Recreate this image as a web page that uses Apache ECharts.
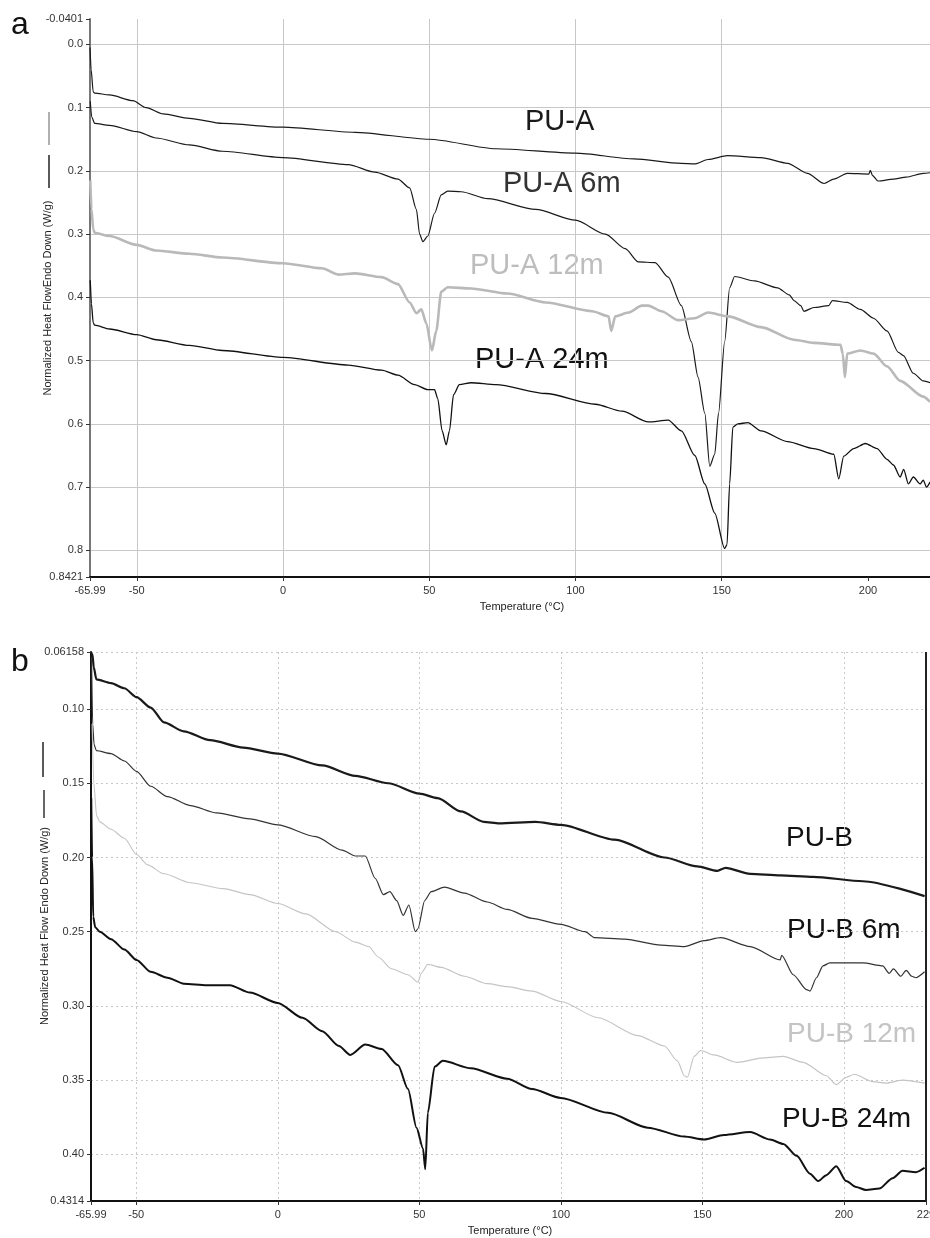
<!DOCTYPE html>
<html>
<head>
<meta charset="utf-8">
<script src="https://cdn.jsdelivr.net/npm/echarts@6/dist/echarts.min.js"></script>
<style>
html,body{margin:0;padding:0;background:#fff;}
#chart{width:930px;height:1238px;}
</style>
</head>
<body>
<div id="chart"></div>
<script>
// ---------- DATA (Temperature °C, Normalized heat flow W/g) ----------
const xTicksA = [-65.99, -50, 0, 50, 100, 150, 200];
const xTicksB = [-65.99, -50, 0, 50, 100, 150, 200, 229];
const yTicksA = [-0.0401, 0.0, 0.1, 0.2, 0.3, 0.4, 0.5, 0.6, 0.7, 0.8, 0.8421];
const yTickLabelsA = ['-0.0401','0.0','0.1','0.2','0.3','0.4','0.5','0.6','0.7','0.8','0.8421'];
const yTicksB = [0.06158, 0.10, 0.15, 0.20, 0.25, 0.30, 0.35, 0.40, 0.4314];
const yTickLabelsB = ['0.06158','0.10','0.15','0.20','0.25','0.30','0.35','0.40','0.4314'];

const puA = [[-65.99,0.005],[-65.6,0.04],[-64.9,0.075],[-64.4,0.077],[-59.3,0.080],[-51.3,0.089],[-46.8,0.1],[-41,0.11],[-32,0.117],[-20.7,0.125],[0,0.131],[24.6,0.139],[50,0.150],[72.8,0.165],[100,0.172],[120,0.181],[136,0.188],[140.8,0.189],[145.3,0.182],[152,0.176],[163.4,0.179],[172.5,0.188],[179.3,0.204],[185,0.220],[188.3,0.213],[192.9,0.204],[200.3,0.205],[200.8,0.199],[201.5,0.207],[203.4,0.216],[208.7,0.213],[213,0.210],[219,0.204],[221.2,0.203]];
const puA6 = [[-65.9,0.09],[-65.4,0.115],[-64.4,0.125],[-59.3,0.128],[-50,0.138],[-43.4,0.148],[-32,0.159],[-20.7,0.169],[0,0.179],[22.3,0.190],[31.4,0.202],[39.3,0.213],[43.3,0.227],[45.6,0.261],[46.7,0.300],[47.8,0.312],[49.5,0.303],[51.8,0.267],[54.1,0.238],[56.3,0.232],[60.9,0.233],[70,0.244],[86.4,0.261],[100,0.278],[110.2,0.300],[117,0.323],[121.5,0.344],[127.2,0.345],[131.7,0.368],[136.2,0.413],[139.6,0.470],[141.9,0.526],[144.2,0.583],[145.9,0.667],[147.6,0.648],[148.9,0.583],[151,0.470],[152.7,0.385],[154.4,0.367],[161.2,0.374],[169.1,0.385],[173.1,0.396],[174.7,0.405],[177,0.413],[178.1,0.422],[181.5,0.416],[186.6,0.413],[187.8,0.405],[192.9,0.408],[197.4,0.419],[201.9,0.433],[206.5,0.453],[210.4,0.487],[212.1,0.492],[215.5,0.520],[218.9,0.532],[221.2,0.535]];
const puA12 = [[-65.9,0.215],[-65.5,0.26],[-64.9,0.292],[-64.4,0.298],[-59.3,0.303],[-50,0.317],[-43.4,0.326],[-32,0.331],[-20.7,0.337],[0,0.346],[13.3,0.354],[18.9,0.364],[24.6,0.362],[33.7,0.368],[39.3,0.379],[43.3,0.408],[45.6,0.425],[47.3,0.419],[49,0.441],[50.9,0.484],[52.4,0.453],[54.1,0.391],[56.3,0.384],[64.3,0.386],[76.7,0.394],[89.8,0.408],[105.7,0.422],[111.3,0.430],[112.2,0.453],[113.6,0.430],[118.1,0.424],[122.7,0.413],[124.9,0.413],[129.4,0.422],[135.1,0.436],[140.8,0.433],[145.3,0.424],[152.1,0.430],[163.4,0.447],[174.7,0.467],[181.5,0.472],[190.6,0.475],[191.4,0.49],[192.1,0.526],[192.9,0.489],[197.4,0.484],[201.9,0.489],[206.5,0.509],[211,0.532],[218.9,0.557],[221.2,0.565]];
const puA24 = [[-65.9,0.373],[-65.5,0.41],[-64.9,0.44],[-64.4,0.444],[-59.3,0.450],[-50,0.459],[-43.4,0.467],[-32,0.476],[-20.7,0.484],[0,0.495],[22.3,0.507],[33.7,0.515],[39.3,0.523],[45,0.538],[49.5,0.546],[51.8,0.546],[52.9,0.560],[54.4,0.611],[55.8,0.633],[56.9,0.611],[58.3,0.554],[60.3,0.538],[64.3,0.535],[72.8,0.538],[89.8,0.552],[106.8,0.569],[115.9,0.580],[124.9,0.597],[131.7,0.594],[136.2,0.611],[140.8,0.650],[144.2,0.695],[147.6,0.741],[151,0.797],[151.8,0.791],[152.7,0.695],[153.8,0.605],[155.5,0.600],[158.9,0.598],[163.4,0.611],[172.5,0.628],[181.5,0.639],[188.3,0.648],[190,0.687],[191.7,0.651],[195.1,0.639],[199.1,0.631],[203.1,0.639],[206.5,0.656],[208.7,0.665],[211,0.684],[212.2,0.672],[213.8,0.695],[215.5,0.684],[217.8,0.695],[218.9,0.689],[220,0.70],[221.2,0.692]];

const puB = [[-65.99,0.062],[-65.5,0.063],[-65,0.072],[-64.1,0.080],[-58.9,0.0825],[-54.2,0.086],[-49.9,0.092],[-44.9,0.099],[-40.2,0.109],[-33.2,0.115],[-23.9,0.121],[-12.2,0.126],[0,0.130],[15.7,0.138],[27.4,0.145],[39,0.150],[50.1,0.157],[56.5,0.160],[64.7,0.169],[72.8,0.176],[78.2,0.177],[91,0.176],[100,0.178],[119,0.188],[136.6,0.200],[148.2,0.206],[155.3,0.209],[158.2,0.207],[166.9,0.211],[177.5,0.212],[189.1,0.213],[206.7,0.216],[228.5,0.226]];
const puB6 = [[-65.8,0.065],[-65.4,0.11],[-64.9,0.124],[-64.1,0.128],[-58.9,0.130],[-54.2,0.135],[-49.9,0.142],[-44.9,0.152],[-39,0.159],[-30.9,0.165],[-21.6,0.170],[-9.9,0.174],[0,0.178],[13.4,0.186],[22.7,0.195],[27.4,0.199],[30.9,0.199],[34.4,0.214],[37.3,0.225],[39.6,0.223],[42,0.229],[44.3,0.239],[46.3,0.232],[48.6,0.250],[49.5,0.248],[51.9,0.229],[54.2,0.223],[58.9,0.220],[65.9,0.224],[74,0.230],[81,0.235],[89.8,0.241],[100,0.245],[108.5,0.250],[112,0.254],[122.5,0.255],[135.4,0.259],[143.6,0.260],[150.6,0.256],[156.4,0.254],[166.9,0.260],[177.5,0.269],[178,0.266],[182.1,0.279],[186.8,0.289],[188,0.290],[190.3,0.281],[192.6,0.273],[195,0.271],[206.7,0.271],[213.7,0.273],[216,0.278],[217.5,0.275],[220.1,0.280],[222,0.276],[224,0.280],[225.4,0.281],[228.5,0.277]];
const puB12 = [[-65.6,0.11],[-65,0.15],[-64,0.172],[-62.9,0.176],[-58.9,0.181],[-54.2,0.187],[-49.9,0.198],[-46,0.205],[-40.2,0.211],[-30.9,0.217],[-19.2,0.221],[-9.9,0.225],[0,0.231],[9.9,0.238],[20.4,0.250],[27.4,0.257],[32.1,0.260],[35.5,0.267],[40.2,0.275],[46,0.279],[49.5,0.284],[50.7,0.278],[53,0.272],[57.7,0.274],[65.9,0.280],[74,0.285],[81,0.287],[89.8,0.290],[100,0.297],[113.2,0.308],[127.2,0.320],[136.6,0.327],[141.2,0.337],[143.6,0.347],[144.7,0.348],[147.1,0.334],[149.4,0.330],[154.1,0.333],[162.3,0.338],[171.6,0.335],[178.6,0.334],[185.6,0.338],[193.8,0.347],[197.3,0.353],[200.8,0.348],[203.7,0.346],[210.2,0.351],[214.8,0.352],[220.7,0.350],[228.5,0.352]];
const puB24 = [[-65.9,0.16],[-65.6,0.20],[-65.2,0.24],[-64.5,0.247],[-62.9,0.250],[-58.9,0.255],[-54.2,0.262],[-49.9,0.269],[-44.9,0.277],[-39,0.281],[-33.2,0.285],[-25.1,0.286],[-16.9,0.286],[-9.9,0.291],[0,0.298],[8.7,0.308],[15.7,0.317],[21.6,0.327],[25.6,0.333],[30.9,0.326],[36.7,0.329],[42.5,0.340],[46,0.356],[49,0.382],[51.3,0.396],[52.1,0.410],[53,0.372],[55.4,0.341],[58.3,0.337],[68.2,0.342],[81,0.349],[89.8,0.356],[100,0.362],[116.7,0.372],[130.7,0.382],[143.6,0.388],[150.6,0.390],[157.6,0.387],[166.9,0.385],[173.9,0.390],[178.6,0.393],[183.3,0.401],[188,0.413],[190.9,0.418],[193.8,0.414],[197.3,0.408],[200.8,0.418],[204.3,0.422],[207.8,0.424],[212.5,0.423],[217.2,0.416],[220.7,0.411],[225.4,0.412],[228.5,0.409]];
const endLineB = 228.8;

// ---------- CHART ----------
const chart = echarts.init(document.getElementById('chart'), null, {renderer:'canvas'});
const FONT = 'Liberation Sans, Arial, sans-serif';

function xAxisCfg(idx, min, max, ticks, lineColor, gridType){
  return {
    type:'value', gridIndex: idx, min:min, max:max,
    axisLine:{show:true, onZero:false, lineStyle:{color:lineColor, width:2}},
    axisTick:{show:true, length:4, customValues:ticks, lineStyle:{color:'#333'}},
    axisLabel:{customValues:ticks, margin:8, fontSize:11, color:'#333', fontFamily:FONT,
      formatter:(v)=>String(v)},
    splitLine:{show:true, showMinLine:false, showMaxLine:false, lineStyle:{color:'#c8c8c8', width:1, type:gridType}}
  };
}
function yAxisCfg(idx, min, max, ticks, labels, lineColor, gridType, showMin){
  return {
    type:'value', gridIndex: idx, min:min, max:max, inverse:true,
    axisLine:{show:true, onZero:false, lineStyle:{color:lineColor, width:2}},
    axisTick:{show:true, length:4, customValues:ticks, lineStyle:{color:'#333'}},
    axisLabel:{customValues:ticks, margin:7, fontSize:11, color:'#333', fontFamily:FONT,
      formatter:(v)=>{ let i = ticks.findIndex(t=>Math.abs(t-v)<1e-6); return i>=0?labels[i]:''; }},
    splitLine:{show:true, showMinLine:showMin, showMaxLine:false, lineStyle:{color:'#c8c8c8', width:1, type:gridType}}
  };
}
function line(name, data, xi, color, width, extra){
  return Object.assign({
    name:name, type:'line', xAxisIndex:xi, yAxisIndex:xi, data:data,
    showSymbol:false, symbol:'none', smooth:0.25, smoothMonotone:'x',
    lineStyle:{color:color, width:width}, animation:false, z:3
  }, extra||{});
}

const option = {
  backgroundColor:'#fff',
  animation:false,
  grid:[
    {left:90, top:19, width:840, height:558, outerBoundsMode:'none', containLabel:false},
    {left:91, top:652, width:835, height:549, outerBoundsMode:'none', containLabel:false}
  ],
  xAxis:[
    xAxisCfg(0, -65.99, 221.2, xTicksA, '#111', 'solid'),
    xAxisCfg(1, -65.99, 229, xTicksB, '#111', [2,3])
  ],
  yAxis:[
    yAxisCfg(0, -0.0401, 0.8421, yTicksA, yTickLabelsA, '#777', 'solid', false),
    yAxisCfg(1, 0.06158, 0.4314, yTicksB, yTickLabelsB, '#111', [2,3], true)
  ],
  series:[
    line('PU-A', puA, 0, '#1a1a1a', 1.2),
    line('PU-A 6m', puA6, 0, '#1a1a1a', 1.2),
    line('PU-A 12m', puA12, 0, '#b9b9b9', 2.6),
    line('PU-A 24m', puA24, 0, '#111', 1.3),
    line('PU-B', puB, 1, '#1a1a1a', 2.2, {
      markLine:{silent:true, symbol:'none', animation:false, label:{show:false},
        lineStyle:{color:'#222', width:2, type:'solid'}, data:[{xAxis:endLineB}]}
    }),
    line('PU-B 6m', puB6, 1, '#333', 1.2),
    line('PU-B 12m', puB12, 1, '#c4c4c4', 1.1),
    line('PU-B 24m', puB24, 1, '#111', 2.0)
  ],
  graphic:[
    {type:'text', x:11, y:41, style:{text:'a', font:'32px '+FONT, fill:'#111', verticalAlign:'bottom'}},
    {type:'text', x:11, y:678, style:{text:'b', font:'32px '+FONT, fill:'#111', verticalAlign:'bottom'}},
    // y-axis titles and legend marks
    {type:'text', x:48, y:298, rotation:Math.PI/2, style:{text:'Normalized Heat FlowEndo Down (W/g)', font:'11px '+FONT, fill:'#222', align:'center', verticalAlign:'middle'}},
    {type:'line', shape:{x1:49, y1:112, x2:49, y2:145}, style:{stroke:'#b0b0b0', lineWidth:2}},
    {type:'line', shape:{x1:49, y1:155, x2:49, y2:188}, style:{stroke:'#222', lineWidth:1.5}},
    {type:'text', x:45, y:926, rotation:Math.PI/2, style:{text:'Normalized Heat Flow Endo Down (W/g)', font:'11px '+FONT, fill:'#222', align:'center', verticalAlign:'middle'}},
    {type:'line', shape:{x1:43, y1:742, x2:43, y2:777}, style:{stroke:'#222', lineWidth:1.5}},
    {type:'line', shape:{x1:44, y1:790, x2:44, y2:818}, style:{stroke:'#333', lineWidth:1.5}},
    // x-axis titles
    {type:'text', x:522, y:607, style:{text:'Temperature (°C)', font:'11px '+FONT, fill:'#222', align:'center', verticalAlign:'middle'}},
    {type:'text', x:510, y:1231, style:{text:'Temperature (°C)', font:'11px '+FONT, fill:'#222', align:'center', verticalAlign:'middle'}},
    // series labels panel a
    {type:'text', x:525, y:122, style:{text:'PU-A', font:'29px '+FONT, fill:'#1a1a1a', verticalAlign:'middle'}},
    {type:'text', x:503, y:184, style:{text:'PU-A 6m', font:'29px '+FONT, fill:'#333', verticalAlign:'middle'}},
    {type:'text', x:470, y:266, style:{text:'PU-A 12m', font:'29px '+FONT, fill:'#bdbdbd', verticalAlign:'middle'}},
    {type:'text', x:475, y:360, style:{text:'PU-A 24m', font:'29px '+FONT, fill:'#111', verticalAlign:'middle'}},
    // series labels panel b
    {type:'text', x:786, y:838, style:{text:'PU-B', font:'28px '+FONT, fill:'#111', verticalAlign:'middle'}},
    {type:'text', x:787, y:930, style:{text:'PU-B 6m', font:'28px '+FONT, fill:'#111', verticalAlign:'middle'}},
    {type:'text', x:787, y:1034, style:{text:'PU-B 12m', font:'28px '+FONT, fill:'#c4c4c4', verticalAlign:'middle'}},
    {type:'text', x:782, y:1119, style:{text:'PU-B 24m', font:'28px '+FONT, fill:'#111', verticalAlign:'middle'}}
  ]
};
chart.setOption(option);
</script>
</body>
</html>
